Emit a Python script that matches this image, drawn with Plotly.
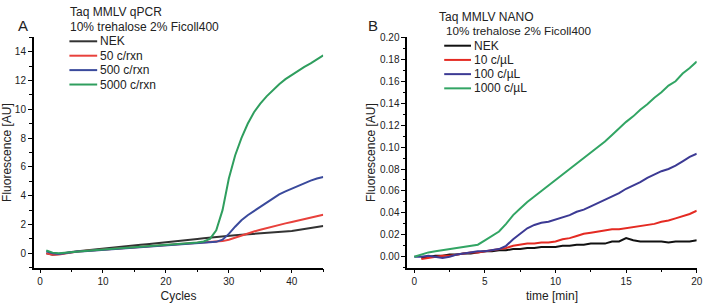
import plotly.graph_objects as go

# ---------------- Data ----------------
cycles = list(range(1, 46))
qpcr_names = ["NEK", "50 c/rxn", "500 c/rxn", "5000 c/rxn"]
qpcr_nek = [0.0, -0.1, -0.05, 0.05, 0.1, 0.15, 0.2, 0.25, 0.3, 0.35, 0.4, 0.44, 0.48, 0.52, 0.56,
            0.6, 0.64, 0.68, 0.73, 0.78, 0.82, 0.86, 0.9, 0.95, 1.0, 1.05, 1.1, 1.15, 1.2, 1.23,
            1.26, 1.29, 1.32, 1.35, 1.38, 1.41, 1.44, 1.47, 1.5, 1.55, 1.62, 1.7, 1.77, 1.84, 1.9]
qpcr_50 = [0.0, -0.1, -0.08, 0.0, 0.07, 0.12, 0.16, 0.19, 0.22, 0.25, 0.28, 0.31, 0.34, 0.37, 0.4,
           0.43, 0.46, 0.49, 0.52, 0.55, 0.58, 0.61, 0.64, 0.67, 0.7, 0.73, 0.76, 0.8, 0.85, 0.95,
           1.1, 1.25, 1.4, 1.52, 1.64, 1.76, 1.88, 1.98, 2.08, 2.18, 2.28, 2.38, 2.48, 2.58, 2.68]
qpcr_500 = [0.15, 0.0, -0.05, 0.02, 0.08, 0.12, 0.15, 0.18, 0.21, 0.24, 0.27, 0.3, 0.33, 0.36, 0.39,
            0.42, 0.45, 0.48, 0.51, 0.54, 0.57, 0.6, 0.63, 0.66, 0.69, 0.72, 0.75, 0.8, 0.95, 1.35,
            1.85, 2.3, 2.65, 2.95, 3.25, 3.55, 3.85, 4.1, 4.3, 4.5, 4.7, 4.9, 5.05, 5.2, 5.3]
qpcr_5000 = [0.2, 0.05, 0.0, 0.05, 0.1, 0.14, 0.17, 0.2, 0.23, 0.26, 0.29, 0.32, 0.35, 0.38, 0.42,
             0.45, 0.48, 0.51, 0.54, 0.57, 0.6, 0.63, 0.66, 0.7, 0.75, 0.82, 1.0, 1.6, 3.0, 5.2,
             6.8, 8.0, 9.0, 9.8, 10.4, 10.9, 11.35, 11.75, 12.1, 12.4, 12.7, 12.95, 13.2, 13.45, 13.75]

time_min = [0.0, 0.5, 1.0, 1.5, 2.0, 2.5, 3.0, 3.5, 4.0, 4.5, 5.0, 5.5, 6.0, 6.5, 7.0, 7.5, 8.0,
            8.5, 9.0, 9.5, 10.0, 10.5, 11.0, 11.5, 12.0, 12.5, 13.0, 13.5, 14.0, 14.5, 15.0, 15.5,
            16.0, 16.5, 17.0, 17.5, 18.0, 18.5, 19.0, 19.5, 20.0]
nano_names = ["NEK", "10 c/\u00b5L", "100 c/\u00b5L", "1000 c/\u00b5L"]
nano_nek = [None, -0.001, 0.0, 0.001, 0.001, 0.002, 0.002, 0.003, 0.003, 0.004, 0.005, 0.005, 0.006,
            0.006, 0.007, 0.007, 0.008, 0.008, 0.009, 0.009, 0.009, 0.01, 0.01, 0.011, 0.011, 0.012,
            0.012, 0.012, 0.014, 0.014, 0.017, 0.015, 0.014, 0.014, 0.014, 0.014, 0.013, 0.014,
            0.014, 0.014, 0.015]
nano_10 = [None, -0.002, -0.001, 0.0, 0.001, 0.001, 0.002, 0.003, 0.004, 0.004, 0.005, 0.006, 0.007,
           0.008, 0.01, 0.011, 0.012, 0.012, 0.013, 0.013, 0.014, 0.016, 0.017, 0.019, 0.021, 0.022,
           0.023, 0.024, 0.025, 0.025, 0.026, 0.027, 0.028, 0.029, 0.03, 0.032, 0.033, 0.035,
           0.037, 0.039, 0.042]
nano_100 = [0.0, 0.0, 0.001, 0.0, -0.001, 0.0, 0.002, 0.003, 0.004, 0.005, 0.005, 0.006, 0.007,
            0.01, 0.016, 0.021, 0.026, 0.029, 0.031, 0.032, 0.034, 0.036, 0.038, 0.041, 0.043,
            0.046, 0.049, 0.052, 0.055, 0.058, 0.062, 0.065, 0.068, 0.072, 0.075, 0.078, 0.08,
            0.083, 0.087, 0.091, 0.094]
nano_1000 = [0.0, 0.002, 0.004, 0.005, 0.006, 0.007, 0.008, 0.009, 0.01, 0.011, 0.015, 0.019, 0.023,
             0.03, 0.038, 0.044, 0.05, 0.055, 0.06, 0.065, 0.07, 0.075, 0.08, 0.085, 0.09, 0.095,
             0.1, 0.105, 0.111, 0.117, 0.123, 0.128, 0.134, 0.139, 0.145, 0.15, 0.156, 0.16,
             0.167, 0.172, 0.178]

colors_a = ["#333333", "#e8413c", "#3a4a9c", "#2f9e5e"]
colors_b = ["#111111", "#e42a22", "#3c3a94", "#32a564"]

# ---------------- Layout helpers ----------------
W, H = 709, 305
def px(x):
    return x / W
def py(y):
    return 1 - y / H

FONT = "Liberation Sans, Arial, sans-serif"

fig = go.Figure()
for name, ys, c in zip(qpcr_names, [qpcr_nek, qpcr_50, qpcr_500, qpcr_5000], colors_a):
    fig.add_trace(go.Scatter(x=cycles, y=ys, mode="lines", name=name,
                             line=dict(color=c, width=2), xaxis="x", yaxis="y",
                             showlegend=False))
for name, ys, c in zip(nano_names, [nano_nek, nano_10, nano_100, nano_1000], colors_b):
    fig.add_trace(go.Scatter(x=time_min, y=ys, mode="lines", name=name,
                             line=dict(color=c, width=2), xaxis="x2", yaxis="y2",
                             showlegend=False))

ydom = [py(267), py(32)]
axis_common = dict(showline=True, linecolor="black", linewidth=1.5, ticks="outside",
                   ticklen=4, tickwidth=1.2, tickcolor="black", showgrid=False,
                   zeroline=False, mirror=False,
                   tickfont=dict(family=FONT, size=10, color="#222"))

fig.update_layout(
    width=W, height=H, margin=dict(l=0, r=0, t=0, b=0),
    paper_bgcolor="white", plot_bgcolor="white",
    font=dict(family=FONT, color="#222"),
    xaxis=dict(domain=[px(34), px(326)], range=[-1, 45], dtick=10, tick0=0,
               minor=dict(ticks="outside", ticklen=2.5, dtick=5, tick0=0, tickcolor="black"),
               title=dict(text="Cycles", font=dict(family=FONT, size=12), standoff=5),
               anchor="y", **axis_common),
    yaxis=dict(domain=ydom, range=[-1, 15], dtick=2, tick0=0,
               minor=dict(ticks="outside", ticklen=2.5, dtick=1, tick0=0, tickcolor="black"),
               title=dict(text="Fluorescence [AU]", font=dict(family=FONT, size=12), standoff=4),
               anchor="x", **axis_common),
    xaxis2=dict(domain=[px(410.7), px(702.7)], range=[-0.5, 20], dtick=5, tick0=0,
                minor=dict(ticks="outside", ticklen=2.5, dtick=2.5, tick0=0, tickcolor="black"),
                title=dict(text="time [min]", font=dict(family=FONT, size=12), standoff=5),
                anchor="y2", **axis_common),
    yaxis2=dict(domain=ydom, range=[-0.01, 0.20], dtick=0.02, tick0=0, tickformat=".2f",
                minor=dict(ticks="outside", ticklen=2.5, dtick=0.01, tick0=0, tickcolor="black"),
                title=dict(text="Fluorescence [AU]", font=dict(family=FONT, size=12), standoff=2),
                anchor="x2", **axis_common),
)

annotations = []
shapes = []

def txt(x, y, s, size, xanchor="left"):
    annotations.append(dict(x=px(x), y=py(y), xref="paper", yref="paper", text=s,
                            showarrow=False, xanchor=xanchor, yanchor="middle",
                            font=dict(family=FONT, size=size, color="#222")))

# Panel labels
txt(23, 20, "A", 15, "center")
txt(376, 20, "B", 15, "center")

# Panel A header + legend
txt(69, 6, "Taq MMLV qPCR", 12)
txt(69, 21, "10% trehalose 2% Ficoll400", 12)
for i, (name, c) in enumerate(zip(qpcr_names, colors_a)):
    yy = 36 + i * 14.7
    shapes.append(dict(type="line", xref="paper", yref="paper", x0=px(70), x1=px(98),
                       y0=py(yy), y1=py(yy), line=dict(color=c, width=2)))
    txt(99, yy, name, 12)

# Panel B header + legend
txt(441, 11.5, "Taq MMLV NANO", 12)
txt(448, 25, "10% trehalose 2% Ficoll400", 11.7)
for i, (name, c) in enumerate(zip(nano_names, colors_b)):
    yy = 40.5 + i * 14.5
    shapes.append(dict(type="line", xref="paper", yref="paper", x0=px(448), x1=px(475),
                       y0=py(yy), y1=py(yy), line=dict(color=c, width=2)))
    txt(476, yy, name, 12)

fig.update_layout(annotations=annotations, shapes=shapes)
fig.write_html("out.html", config={"displayModeBar": False},
               post_script="document.body.style.margin='0';document.body.style.padding='0';")
